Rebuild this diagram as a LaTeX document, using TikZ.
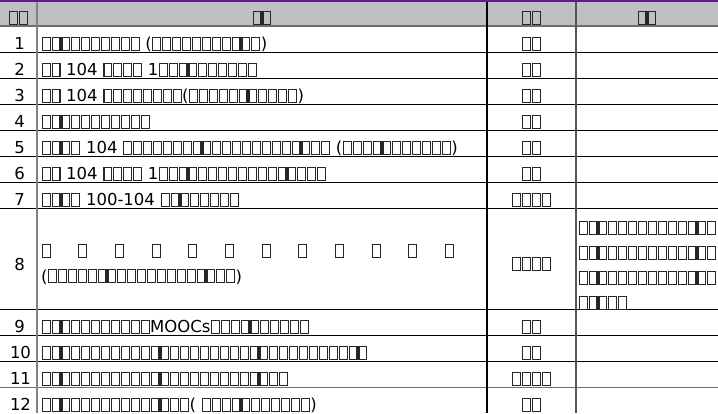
\documentclass[tikz,border=0pt]{standalone}
\usepackage{fontspec}
\setmainfont{DejaVu Sans}
\catcode`▯=\active
\def▯{\hbox to 9.9pt{\hss\color{black!85}\lower1.2pt\vbox{\hrule height1.1pt\hbox{\vrule width1.1pt height11.8pt\kern6.8pt\vrule width1.1pt}\hrule height1.1pt}\hss}}
\definecolor{hdrgray}{RGB}{192,192,192}
\definecolor{toppurple}{RGB}{96,24,150}
\definecolor{rulegray}{RGB}{110,110,110}
\definecolor{colgray}{RGB}{130,130,130}
\definecolor{darkcol}{RGB}{85,85,90}
\begin{document}
\begin{tikzpicture}[x=1pt,y=-1pt,
  txt/.style={inner sep=0pt,anchor=base west,font=\fontsize{16.5}{25}\selectfont},
  ctr/.style={inner sep=0pt,anchor=base,font=\fontsize{16.5}{25}\selectfont},
  hline/.style={line width=1.3pt,black},
  hlinegray/.style={line width=1.3pt,rulegray}]
\useasboundingbox (0,0) rectangle (718,413);
\fill[hdrgray] (0,1.5) rectangle (718,26);
% horizontal rules
\draw[hlinegray] (0,26) -- (718,26);
\foreach \yy in {52.3,78.3,104.3,130.3,156.3,182.3,208.3,309.3,335.3,361.3}
  \draw[hline] (0,\yy) -- (718,\yy);
\draw[hlinegray] (0,387.3) -- (718,387.3);
% vertical rules
\draw[colgray,line width=1.5pt] (37,0) -- (37,413);
\draw[black,line width=1.1pt] (487,0) -- (487,413);
\draw[darkcol,line width=2pt] (576,0) -- (576,413);
\draw[toppurple,line width=1.5pt] (0,0.75) -- (718,0.75);
% header
\node[ctr] (hno) at (18.5,24) {▯▯};
\node[ctr] (hitem) at (262,24) {▯▯};
\node[ctr] (hunit) at (531.5,24) {▯▯};
\node[ctr] (hnote) at (647,24) {▯▯};
% numbers
\node[ctr] (n1) at (19.5,49.5) {1};
\node[ctr] (n2) at (19.5,75.5) {2};
\node[ctr] (n3) at (19.5,101.5) {3};
\node[ctr] (n4) at (19.5,127.5) {4};
\node[ctr] (n5) at (19.5,153.5) {5};
\node[ctr] (n6) at (19.5,179.5) {6};
\node[ctr] (n7) at (19.5,205.5) {7};
\node[ctr] (n8) at (19.5,270) {8};
\node[ctr] (n9) at (19.5,332.5) {9};
\node[ctr] (n10) at (20.5,358.5) {10};
\node[ctr] (n11) at (20.5,384.5) {11};
\node[ctr] (n12) at (20.5,410.5) {12};
% items
\node[txt] (i1) at (41,49.5) {▯▯▯▯▯▯▯▯▯▯ (▯▯▯▯▯▯▯▯▯▯▯)};
\node[txt] (i2) at (41,75.5) {▯▯ 104 ▯▯▯▯ 1▯▯▯▯▯▯▯▯▯▯};
\node[txt] (i3) at (41,101.5) {▯▯ 104 ▯▯▯▯▯▯▯▯(▯▯▯▯▯▯▯▯▯▯▯)};
\node[txt] (i4) at (41,127.5) {▯▯▯▯▯▯▯▯▯▯▯};
\node[txt] (i5) at (41,153.5) {▯▯▯▯ 104 ▯▯▯▯▯▯▯▯▯▯▯▯▯▯▯▯▯▯▯▯▯ (▯▯▯▯▯▯▯▯▯▯▯)};
\node[txt] (i6) at (41,179.5) {▯▯ 104 ▯▯▯▯ 1▯▯▯▯▯▯▯▯▯▯▯▯▯▯▯▯▯};
\node[txt] (i7) at (41,205.5) {▯▯▯▯ 100-104 ▯▯▯▯▯▯▯▯};
\node[txt] (i8a) at (41,257) {\hbox to 413.3pt{▯\hfil▯\hfil▯\hfil▯\hfil▯\hfil▯\hfil▯\hfil▯\hfil▯\hfil▯\hfil▯\hfil▯}};
\node[txt] (i8b) at (41,282) {(▯▯▯▯▯▯▯▯▯▯▯▯▯▯▯▯▯▯▯)};
\node[txt] (i9) at (41,332.5) {▯▯▯▯▯▯▯▯▯▯▯MOOCs▯▯▯▯▯▯▯▯▯▯};
\node[txt] (i10) at (41,358.5) {▯▯▯▯▯▯▯▯▯▯▯▯▯▯▯▯▯▯▯▯▯▯▯▯▯▯▯▯▯▯▯▯▯};
\node[txt] (i11) at (41,384.5) {▯▯▯▯▯▯▯▯▯▯▯▯▯▯▯▯▯▯▯▯▯▯▯▯▯};
\node[txt] (i12) at (41,410.5) {▯▯▯▯▯▯▯▯▯▯▯▯▯▯▯( ▯▯▯▯▯▯▯▯▯▯▯)};
% units
\node[ctr] (u1) at (531.5,49.5) {▯▯};
\node[ctr] (u2) at (531.5,75.5) {▯▯};
\node[ctr] (u3) at (531.5,101.5) {▯▯};
\node[ctr] (u4) at (531.5,127.5) {▯▯};
\node[ctr] (u5) at (531.5,153.5) {▯▯};
\node[ctr] (u6) at (531.5,179.5) {▯▯};
\node[ctr] (u7) at (531.5,205.5) {▯▯▯▯};
\node[ctr] (u8) at (531.5,270) {▯▯▯▯};
\node[ctr] (u9) at (531.5,332.5) {▯▯};
\node[ctr] (u10) at (531.5,358.5) {▯▯};
\node[ctr] (u11) at (531.5,384.5) {▯▯▯▯};
\node[ctr] (u12) at (531.5,410.5) {▯▯};
% notes
\node[txt] (r8a) at (578,233.5) {▯▯▯▯▯▯▯▯▯▯▯▯▯▯};
\node[txt] (r8b) at (578,258.5) {▯▯▯▯▯▯▯▯▯▯▯▯▯▯};
\node[txt] (r8c) at (578,283.5) {▯▯▯▯▯▯▯▯▯▯▯▯▯▯};
\node[txt] (r8d) at (578,308.5) {▯▯▯▯▯};
\end{tikzpicture}
\end{document}
